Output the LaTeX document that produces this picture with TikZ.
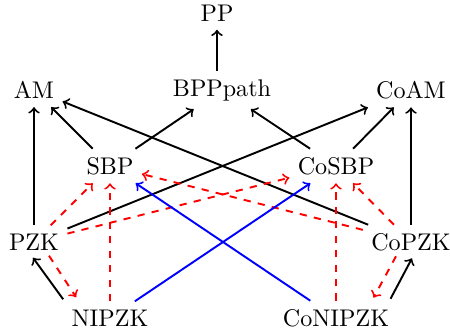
\documentclass[tikz,border=0pt]{standalone}
\usetikzlibrary{arrows,calc}
\begin{document}
\begin{tikzpicture}[x=0.415pt,y=-0.415pt,
  imp/.style={->,thick,black},
  pzkimp/.style={->,thick,dashed,red},
  coimp/.style={->,thick,blue}]
\useasboundingbox (0,0) rectangle (450,329);
% complexity classes
\node (PP)      at (217,13)  {PP};
\node (AM)      at (34,90)   {AM};
\node (BPPpath) at (222,90)  {BPPpath};
\node (CoAM)    at (411,90)  {CoAM};
\node (SBP)     at (110,166) {SBP};
\node (CoSBP)   at (336,166) {CoSBP};
\node (PZK)     at (34,242)  {PZK};
\node (CoPZK)   at (411,242) {CoPZK};
\node (NIPZK)   at (110,318) {NIPZK};
\node (CoNIPZK) at (336,318) {CoNIPZK};
% inclusions
\draw[imp] (BPPpath.north -| PP) -- (PP);
\draw[imp] (PZK) -- (AM);
\draw[imp] (SBP) -- (AM);
\draw[imp] (SBP) -- (BPPpath);
\draw[imp] (CoPZK) -- (AM);
\draw[imp] (PZK) -- (CoAM);
\draw[imp] (CoSBP) -- (BPPpath);
\draw[imp] (CoSBP) -- (CoAM);
\draw[imp] (CoPZK) -- (CoAM);
\draw[imp] ($(NIPZK.north west)+(0,-2)$) -- ($(PZK.south)+(-1,-1)$);
\draw[imp] ($(CoNIPZK.north east)+(-7,-2)$) -- ($(CoPZK.south)+(1,-1)$);
% zero-knowledge inclusions
\draw[pzkimp] (PZK) -- (SBP);
\draw[pzkimp] (PZK) -- (CoSBP);
\draw[pzkimp] (NIPZK) -- (SBP);
\draw[pzkimp] ($(PZK.south)+(15,-3)$) -- ($(NIPZK.north west)+(13,-4)$);
\draw[pzkimp] (CoPZK) -- (SBP);
\draw[pzkimp] (CoPZK) -- (CoSBP);
\draw[pzkimp] (CoNIPZK) -- (CoSBP);
\draw[pzkimp] ($(CoPZK.south)+(-15,-3)$) -- ($(CoNIPZK.north east)+(-24,-3)$);
% complement crossings
\draw[coimp] (NIPZK) -- (CoSBP);
\draw[coimp] (CoNIPZK) -- (SBP);
\end{tikzpicture}
\end{document}
